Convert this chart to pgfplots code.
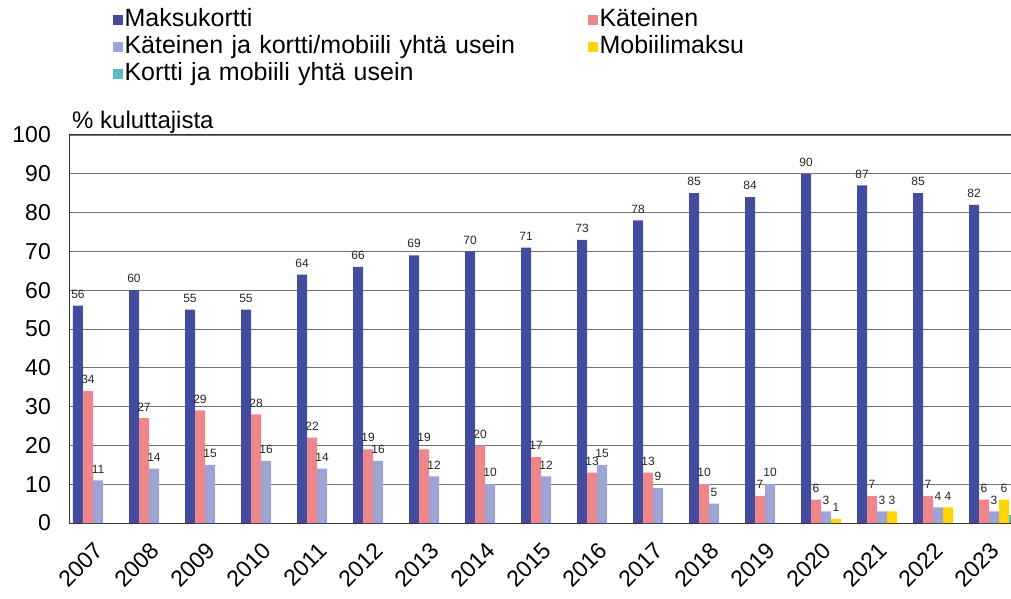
\documentclass[border=0pt]{standalone}
\usepackage{pgfplots}
\pgfplotsset{compat=1.18}
\usepackage{fontspec}
\setmainfont{Liberation Sans}
\definecolor{cMaksu}{HTML}{444CA0}
\definecolor{cKat}{HTML}{EE868C}
\definecolor{cKK}{HTML}{9FA4D6}
\definecolor{cMob}{HTML}{FFD500}
\definecolor{cKM}{HTML}{5DB8C8}
\begin{document}
\begin{tikzpicture}
\path[use as bounding box] (-70pt,-76pt) rectangle (941pt,523pt);
\clip (-70pt,-76pt) rectangle (941pt,523pt);
\begin{axis}[
  at={(0pt,0pt)}, anchor=south west,
  scale only axis,
  width=952pt, height=388pt,
  ybar=0pt, bar width=10pt,
  xmin=-0.5, xmax=16.5,
  ymin=0, ymax=100,
  ytick={0,10,...,100},
  xtick={0,...,16},
  xticklabels={2007,2008,2009,2010,2011,2012,2013,2014,2015,2016,2017,2018,2019,2020,2021,2022,2023},
  major tick length=0pt,
  ymajorgrids,
  grid style={draw=black!55, line width=0.8pt},
  axis line style={draw=black!80, line width=1pt},
  tick label style={font=\fontsize{23}{26}\selectfont},
  /pgf/number format/assume math mode=true,
  yticklabel style={anchor=east, inner sep=0pt, xshift=-19pt},
  xticklabel style={anchor=east, inner sep=0pt, xshift=1pt, yshift=-24pt, rotate=45},
  nodes near coords,
  every node near coord/.append style={font=\fontsize{12}{14}\selectfont, text=black!85, inner sep=0pt, yshift=7pt, anchor=south},
  legend columns=2,
  legend cell align=left,
  legend style={at={(0.045,1.331)}, anchor=north west, draw=none, fill=none,
    inner sep=0pt, font=\fontsize{25}{27}\selectfont, row sep=0pt,
    nodes={inner sep=1.5pt, text width=462pt, text height=18pt, text depth=6pt}},
  legend image code/.code={\fill[#1] (0pt,-5pt) rectangle (10pt,5pt);},
  clip=false,
]
\addplot[fill=cMaksu, draw=none] coordinates {(0,56)(1,60)(2,55)(3,55)(4,64)(5,66)(6,69)(7,70)(8,71)(9,73)(10,78)(11,85)(12,84)(13,90)(14,87)(15,85)(16,82)};
\addplot[fill=cKat, draw=none] coordinates {(0,34)(1,27)(2,29)(3,28)(4,22)(5,19)(6,19)(7,20)(8,17)(9,13)(10,13)(11,10)(12,7)(13,6)(14,7)(15,7)(16,6)};
\addplot[fill=cKK, draw=none] coordinates {(0,11)(1,14)(2,15)(3,16)(4,14)(5,16)(6,12)(7,10)(8,12)(9,15)(10,9)(11,5)(12,10)(13,3)(14,3)(15,4)(16,3)};
\addplot[fill=cMob, draw=none] coordinates {(13,1)(14,3)(15,4)(16,6)};
\addplot[fill=cKM, draw=none] coordinates {(16,2)};
\legend{Maksukortti, Käteinen, Käteinen ja kortti/mobiili yhtä usein, Mobiilimaksu, Kortti ja mobiili yhtä usein}
\node[anchor=base west, inner sep=0pt, font=\fontsize{24}{26}\selectfont] at ([xshift=2pt,yshift=6pt]axis description cs:0,1) {\% kuluttajista};
\end{axis}
\end{tikzpicture}
\end{document}
